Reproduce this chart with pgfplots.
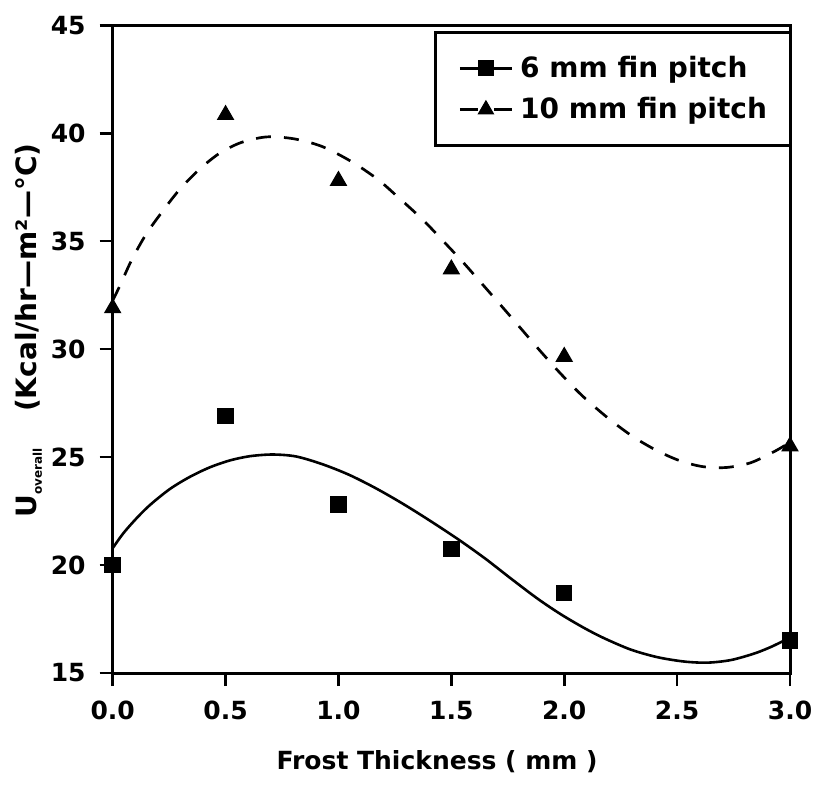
\documentclass[border=0pt]{standalone}
\usepackage{pgfplots}
\pgfplotsset{compat=1.18}
\usepackage{fontspec}
\setmainfont{DejaVu Sans}
\begin{document}
\begin{tikzpicture}
\begin{axis}[
  at={(0,0)}, anchor=south west,
  scale only axis, width=338.7pt, height=323.9pt,
  xmin=0, xmax=3, ymin=15, ymax=45,
  xtick={0,0.5,1,1.5,2,2.5,3}, ytick={15,20,25,30,35,40,45},
  xtick pos=left, ytick pos=left,
  tick align=outside, major tick length=6.5pt,
  axis line style={line width=1.5pt},
  every tick/.style={line width=1.3pt, black},
  /pgf/number format/assume math mode=true,
  xticklabel={\pgfmathprintnumber[fixed,fixed zerofill,precision=1]{\tick}},
  tick label style={font=\fontsize{12.5}{15}\selectfont\bfseries},
  xticklabel style={yshift=-4pt},
  yticklabel style={xshift=-3.5pt},
  xlabel={Frost Thickness ( mm )},
  xlabel style={at={(axis description cs:0.479,-0.137)}, anchor=center, font=\fontsize{12.5}{15}\selectfont\bfseries},
  ylabel={U\raisebox{-2.5pt}{\fontsize{6}{7}\selectfont overall}\hspace{18pt}(Kcal/hr—m²—°C)},
  ylabel style={at={(axis description cs:-0.124,0.529)}, anchor=center, font=\fontsize{14}{16}\selectfont\bfseries},
  legend cell align=left,
  legend style={at={(axis description cs:1,1)}, anchor=north east, xshift=0.7pt, yshift=-3pt,
    draw=black, line width=1.4pt, inner xsep=11.5pt, inner ysep=11.75pt,
    font=\fontsize{14}{16}\selectfont\bfseries, nodes={inner sep=0pt}, row sep=8.5pt,
    /tikz/every odd column/.append style={column sep=3.5pt}},
  clip=false,
]
\addlegendimage{black, line width=1.3pt, mark=square*, mark size=3.7pt, mark options={line width=0.6pt},
  legend image code/.code={\draw[mark repeat=2,mark phase=2] plot coordinates {(0pt,0pt) (13pt,0pt) (26pt,0pt)};}}
\addlegendentry{6 mm fin pitch}
\addlegendimage{black, line width=1.3pt, mark=triangle*, mark size=4.3pt, mark options={solid, line width=0.6pt},
  legend image code/.code={\draw[dash pattern=on 9pt off 8pt, mark repeat=2,mark phase=2] plot coordinates {(0pt,0pt) (13pt,0pt) (26pt,0pt)};}}
\addlegendentry{10 mm fin pitch}

% fitted curve, 6 mm fin pitch
\addplot[black, line width=1.3pt, smooth, tension=0.5, forget plot] coordinates {
(0,20.78) (0.047,21.47) (0.106,22.17) (0.165,22.78) (0.253,23.52) (0.341,24.08)
(0.429,24.52) (0.517,24.84) (0.606,25.04) (0.708,25.12) (0.812,25.03) (0.929,24.67)
(1.047,24.18) (1.165,23.56) (1.282,22.86) (1.4,22.09) (1.532,21.18) (1.65,20.30)
(1.767,19.35) (1.885,18.42) (1.988,17.70) (2.091,17.07) (2.179,16.60) (2.296,16.08)
(2.414,15.73) (2.532,15.53) (2.635,15.48) (2.738,15.60) (2.841,15.90) (2.914,16.20)
(2.973,16.50) (3.0,16.65)};
% fitted curve, 10 mm fin pitch
\addplot[black, line width=1.35pt, smooth, tension=0.5, dash pattern=on 7.5pt off 6.5pt, forget plot] coordinates {
(0,32.25) (0.032,32.94) (0.084,34.13) (0.146,35.29) (0.209,36.22) (0.292,37.34)
(0.381,38.30) (0.473,39.07) (0.569,39.57) (0.682,39.83) (0.804,39.74) (0.929,39.38)
(1.057,38.69) (1.172,37.88) (1.263,37.05) (1.373,36.00) (1.469,34.95) (1.554,34.00)
(1.638,33.00) (1.726,31.95) (1.811,30.92) (1.895,29.90) (1.981,28.90) (2.079,27.85)
(2.189,26.85) (2.3,25.98) (2.407,25.32) (2.51,24.84) (2.613,24.56) (2.719,24.52)
(2.826,24.74) (2.929,25.25) (3.0,25.68)};
% measured points
\addplot[black, only marks, mark=square*, mark size=3.8pt, mark options={line width=0.6pt}, forget plot] coordinates {
(0,20.0) (0.5,26.9) (1.0,22.8) (1.5,20.75) (2.0,18.7) (3.0,16.5)};
\addplot[black, only marks, mark=triangle*, mark size=4.5pt, mark options={line width=0.6pt}, forget plot] coordinates {
(0,31.9) (0.5,40.85) (1.0,37.8) (1.5,33.7) (2.0,29.65) (3.0,25.5)};
\end{axis}
\pgfresetboundingbox
\path (-56.35pt,-56.5pt) rectangle (350.7pt,336.55pt);
\end{tikzpicture}
\end{document}
